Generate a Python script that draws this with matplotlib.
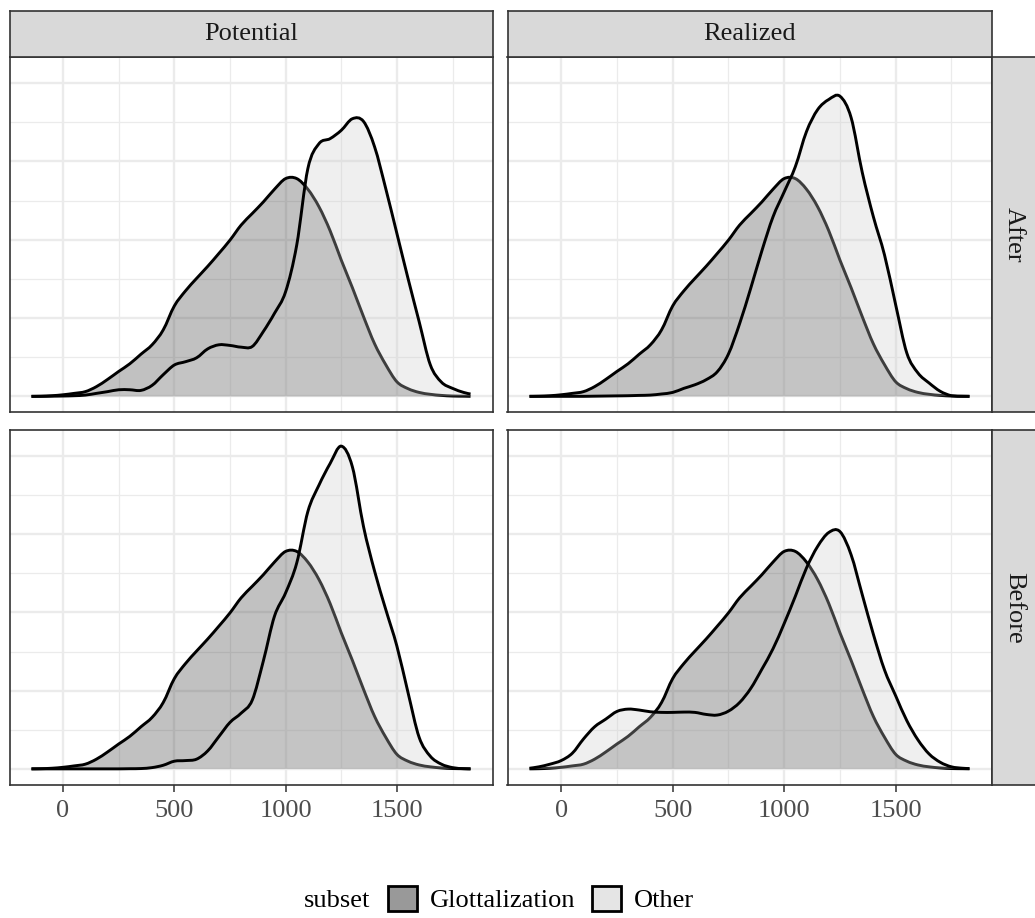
import numpy as np
import matplotlib
matplotlib.use("Agg")
import matplotlib.pyplot as plt
from matplotlib.patches import Patch, PathPatch
from matplotlib.path import Path
from matplotlib.ticker import MultipleLocator

plt.rcParams['font.family'] = ['Liberation Serif', 'DejaVu Serif']

columns = ["Potential", "Realized"]
rows = ["After", "Before"]
subsets = ["Glottalization", "Other"]

# evaluation points of the density curves
duration = [-142, -100, -50, 0, 50, 100, 150, 200, 250, 300, 350, 400, 450,
            500, 550, 600, 650, 700, 750, 800, 850, 900, 950, 1000, 1050,
            1100, 1150, 1200, 1250, 1300, 1350, 1400, 1450, 1500, 1550,
            1600, 1650, 1700, 1750, 1800, 1831]

# densities, in units of 1e-4
glottalization = [0, 0.01, 0.04, 0.1, 0.19, 0.3, 0.62, 1.08, 1.59, 2.08, 2.69,
                  3.29, 4.24, 5.77, 6.73, 7.53, 8.30, 9.12, 9.97, 10.93, 11.67,
                  12.41, 13.22, 13.9, 13.9, 13.22, 12.1, 10.57, 8.70, 6.94,
                  5.09, 3.35, 2.02, 0.93, 0.49, 0.25, 0.13, 0.06, 0.02, 0.01, 0]
other_potential_after = [0, 0, 0.01, 0.02, 0.04, 0.08, 0.19, 0.30, 0.42, 0.42,
                         0.38, 0.70, 1.38, 2.0, 2.21, 2.46, 3.03, 3.29, 3.25,
                         3.14, 3.18, 4.14, 5.3, 6.68, 9.66, 14.54, 16.13, 16.45,
                         16.98, 17.72, 17.55, 15.92, 13.26, 10.4, 7.53, 4.77,
                         2.02, 0.91, 0.51, 0.25, 0.15]
other_realized_after = [0, 0, 0, 0, 0, 0, 0.01, 0.02, 0.03, 0.04, 0.06, 0.08,
                        0.15, 0.25, 0.51, 0.74, 1.06, 1.57, 2.70, 4.63, 6.9,
                        9.29, 11.46, 13.05, 14.66, 16.9, 18.3, 18.95, 19.16,
                        17.8, 14.3, 11.46, 9.02, 5.84, 2.76, 1.49, 0.85, 0.32,
                        0.04, 0, 0]
other_potential_before = [0, 0, 0, 0, 0, 0, 0, 0, 0, 0.01, 0.02, 0.08, 0.23,
                          0.49, 0.53, 0.62, 1.15, 2.06, 2.97, 3.56, 4.39, 6.9,
                          9.76, 11.25, 13.16, 16.45, 18.14, 19.52, 20.63, 19.31,
                          15.49, 12.63, 10.19, 7.85, 4.88, 2.02, 0.81, 0.30,
                          0.08, 0.01, 0]
other_realized_before = [0.04, 0.13, 0.30, 0.53, 1.0, 1.91, 2.69, 3.18, 3.67,
                         3.82, 3.76, 3.65, 3.61, 3.61, 3.63, 3.61, 3.48, 3.44,
                         3.69, 4.24, 5.14, 6.37, 7.68, 9.29, 11.03, 12.84, 14.22,
                         15.11, 15.17, 13.69, 11.14, 8.6, 6.32, 4.67, 3.08, 1.85,
                         0.95, 0.42, 0.13, 0.04, 0.02]

other = {("Potential", "After"): other_potential_after,
         ("Realized", "After"): other_realized_after,
         ("Potential", "Before"): other_potential_before,
         ("Realized", "Before"): other_realized_before}

x = np.array(duration, dtype=float)
glott = np.array(glottalization) * 1e-4
ymax = max([glott.max()] + [max(v) * 1e-4 for v in other.values()])
xspan = x.max() - x.min()


def smooth_path(xv, yv, closed):
    # Catmull-Rom style cubic segments through the read points
    verts = [(xv[0], yv[0])]
    codes = [Path.MOVETO]
    n = len(xv)
    for k in range(n - 1):
        k0, k3 = max(k - 1, 0), min(k + 2, n - 1)
        c1 = (xv[k] + (xv[k + 1] - xv[k0]) / 6, max(yv[k] + (yv[k + 1] - yv[k0]) / 6, 0))
        c2 = (xv[k + 1] - (xv[k3] - xv[k]) / 6, max(yv[k + 1] - (yv[k3] - yv[k]) / 6, 0))
        verts += [c1, c2, (xv[k + 1], yv[k + 1])]
        codes += [Path.CURVE4] * 3
    if closed:
        verts += [(xv[-1], 0), (xv[0], 0), (xv[0], yv[0])]
        codes += [Path.LINETO, Path.LINETO, Path.CLOSEPOLY]
    return Path(verts, codes)


def density(ax, yv, fill, z):
    ax.add_patch(PathPatch(smooth_path(x, yv, True), facecolor=fill, alpha=0.3,
                           lw=0, zorder=z))
    ax.add_patch(PathPatch(smooth_path(x, yv, False), facecolor='none',
                           edgecolor='black', lw=2.1, zorder=z + 1, capstyle='butt'))


W, H = 1035, 918
fig = plt.figure(figsize=(W / 100, H / 100), dpi=100)


def box(x0, y0, x1, y1):
    # pixel box with top-left origin -> figure fraction rect
    return [x0 / W, 1 - y1 / H, (x1 - x0) / W, (y1 - y0) / H]


col_px = [(9.5, 492.5), (507.5, 991.5)]
row_px = [(57, 412.5), (430, 785)]
border = '#333333'

for j, col in enumerate(columns):
    for i, row in enumerate(rows):
        ax = fig.add_axes(box(col_px[j][0], row_px[i][0], col_px[j][1], row_px[i][1]))
        ax.set_axisbelow(True)
        ax.xaxis.set_major_locator(MultipleLocator(500))
        ax.xaxis.set_minor_locator(MultipleLocator(250))
        ax.yaxis.set_major_locator(MultipleLocator(5e-4))
        ax.yaxis.set_minor_locator(MultipleLocator(2.5e-4))
        ax.grid(which='major', color='#ebebeb', lw=1.7, zorder=0)
        ax.grid(which='minor', color='#ebebeb', lw=0.9, zorder=0)

        oth = np.array(other[(col, row)]) * 1e-4
        density(ax, glott, '#333333', 1)
        density(ax, oth, '#cccccc', 3)

        ax.set_xlim(x.min() - 0.05 * xspan, x.max() + 0.05 * xspan)
        ax.set_ylim(-0.05 * ymax, 1.05 * ymax)
        for s in ax.spines.values():
            s.set_color(border)
            s.set_linewidth(1.2)
            s.set_zorder(6)
        ax.tick_params(axis='y', which='both', left=False, labelleft=False)
        ax.tick_params(axis='x', which='minor', length=0)
        if i == len(rows) - 1:
            ax.tick_params(axis='x', which='major', length=4.8, width=1.1,
                           color=border, labelcolor='#4d4d4d', labelsize=19, pad=6)
        else:
            ax.tick_params(axis='x', which='major', bottom=False, labelbottom=False)

# strips
for j, col in enumerate(columns):
    sa = fig.add_axes(box(col_px[j][0], 11, col_px[j][1], 57))
    sa.set_facecolor('#d9d9d9')
    sa.set_xticks([])
    sa.set_yticks([])
    for s in sa.spines.values():
        s.set_color(border)
        s.set_linewidth(1.2)
    sa.text(0.5, 0.5, col, ha='center', va='center', fontsize=19,
            color='#1a1a1a', transform=sa.transAxes)

for i, row in enumerate(rows):
    sa = fig.add_axes(box(991.5, row_px[i][0], 1038, row_px[i][1]))
    sa.set_facecolor('#d9d9d9')
    sa.set_xticks([])
    sa.set_yticks([])
    for s in sa.spines.values():
        s.set_color(border)
        s.set_linewidth(1.2)
    sa.text(0.48, 0.5, row, ha='center', va='center', fontsize=19, rotation=-90,
            color='#1a1a1a', transform=sa.transAxes)

# legend
handles = [Patch(facecolor='#999999', edgecolor='black', lw=2.0, label=subsets[0]),
           Patch(facecolor='#e5e5e5', edgecolor='black', lw=2.0, label=subsets[1])]
fig.legend(handles=handles, loc='center', bbox_to_anchor=(541 / W, 1 - 899 / H),
           ncol=2, frameon=False, fontsize=19, handlelength=1.1, handleheight=1.1,
           handletextpad=0.5, columnspacing=0.6, borderpad=0)
fig.text(370 / W, 1 - 901 / H, "subset", ha='right', va='center', fontsize=19)

fig.savefig("out.png", dpi=100)
